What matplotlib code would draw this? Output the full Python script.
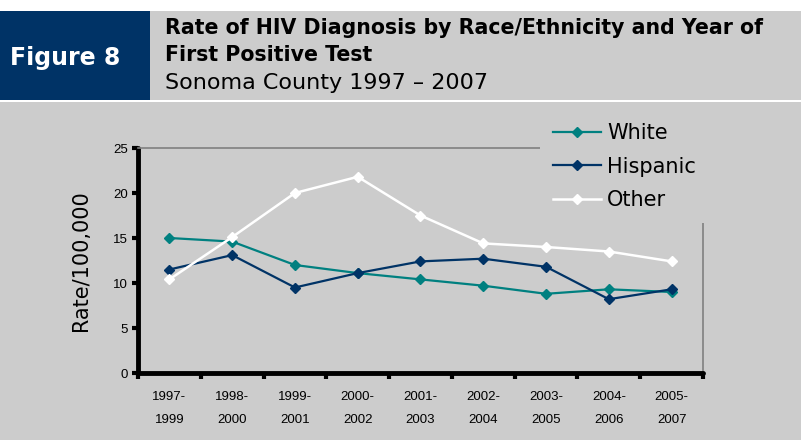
import numpy as np
import matplotlib
matplotlib.use('Agg')
import matplotlib.pyplot as plt
from matplotlib.patches import Rectangle

# rate per 100,000 by 3-year period of first positive test
periods = ['1997-\n1999', '1998-\n2000', '1999-\n2001', '2000-\n2002', '2001-\n2003',
           '2002-\n2004', '2003-\n2005', '2004-\n2006', '2005-\n2007']
white = [15.0, 14.6, 12.0, 11.1, 10.4, 9.7, 8.8, 9.3, 9.0]
hispanic = [11.5, 13.1, 9.5, 11.1, 12.4, 12.7, 11.8, 8.2, 9.3]
other = [10.4, 15.1, 20.0, 21.8, 17.5, 14.4, 14.0, 13.5, 12.4]
yticks = [0, 5, 10, 15, 20, 25]

GRAY = '#cccccc'
NAVY = '#003366'
TEAL = '#008080'

W, H = 801, 440
fig = plt.figure(figsize=(W / 100, H / 100), dpi=100)
fig.patch.set_facecolor('white')

def px(x0, y0, x1, y1):
    # pixel box (top-left origin) -> figure fraction rect
    return (x0 / W, 1 - y1 / H), (x1 - x0) / W, (y1 - y0) / H

# header blocks and body background
for (x0, y0, x1, y1), col in [((0, 11, 150, 100), NAVY),
                              ((150, 11, W, 100), GRAY),
                              ((0, 102.5, W, H), GRAY)]:
    xy, w, h = px(x0, y0, x1, y1)
    fig.patches.append(Rectangle(xy, w, h, transform=fig.transFigure,
                                 facecolor=col, edgecolor='none', zorder=-5))

fig.text(10 / W, 1 - 58 / H, 'Figure 8', color='white', fontsize=17,
         fontweight='bold', va='center', ha='left')
fig.text(165 / W, 1 - 28 / H, 'Rate of HIV Diagnosis by Race/Ethnicity and Year of',
         fontsize=14.8, fontweight='bold', va='center', ha='left')
fig.text(165 / W, 1 - 55 / H, 'First Positive Test',
         fontsize=14.8, fontweight='bold', va='center', ha='left')
fig.text(165 / W, 1 - 83 / H, 'Sonoma County 1997 \u2013 2007',
         fontsize=16, va='center', ha='left')

# plot area
left, right, top, bottom = 138, 703, 148, 373
ax = fig.add_axes([left / W, 1 - bottom / H, (right - left) / W, (bottom - top) / H])
ax.set_facecolor(GRAY)

x = np.arange(len(periods))
ax.plot(x, white, color=TEAL, lw=1.6, marker='D', ms=5.5, label='White', zorder=3)
ax.plot(x, hispanic, color=NAVY, lw=1.6, marker='D', ms=5.5, label='Hispanic', zorder=4)
ax.plot(x, other, color='white', lw=1.8, marker='D', ms=5.5, label='Other', zorder=5)

ax.set_xlim(-0.5, len(periods) - 0.5)
ax.set_ylim(0, 25)
ax.set_yticks(yticks)
ax.set_xticks(np.arange(len(periods) + 1) - 0.5)
ax.set_xticklabels([])
ax.set_xticks(x, minor=True)
ax.set_xticklabels(periods, minor=True, fontsize=9.5, family='Liberation Sans',
                   linespacing=2.2)
ax.tick_params(axis='x', which='minor', length=0, pad=13)
ax.tick_params(axis='x', which='major', length=4, width=3, color='black', direction='out')
ax.tick_params(axis='y', length=4, width=3, color='black', direction='out',
               labelsize=9.5, pad=3)
for lab in ax.get_yticklabels():
    lab.set_family('Liberation Sans')

for s in ['left', 'bottom']:
    ax.spines[s].set_linewidth(3.5)
    ax.spines[s].set_color('black')
    ax.spines[s].set_capstyle('round')
for s in ['top', 'right']:
    ax.spines[s].set_linewidth(1.2)
    ax.spines[s].set_color('#808080')

ax.set_ylabel('Rate/100,000', fontsize=15, labelpad=16)

# legend sits on a gray patch over the plot frame corner
xy, w, h = px(540, 104, 760, 223)
ax.add_patch(Rectangle(xy, w, h, transform=fig.transFigure, facecolor=GRAY,
                       edgecolor='none', clip_on=False, zorder=6))
leg = ax.legend(loc='upper left', bbox_to_anchor=(553 / W, 1 - 123 / H),
                bbox_transform=fig.transFigure, frameon=False, fontsize=15,
                handlelength=2.3, handletextpad=0.3, labelspacing=0.66,
                borderpad=0, borderaxespad=0)
leg.set_zorder(7)

fig.savefig('out.png', dpi=100, facecolor=fig.get_facecolor())
